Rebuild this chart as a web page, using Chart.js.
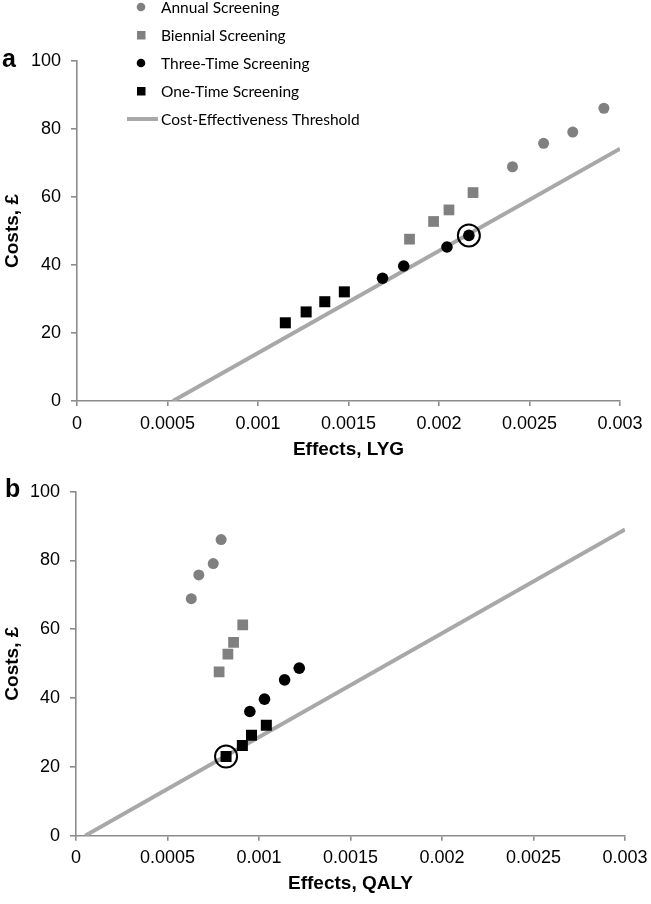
<!DOCTYPE html>
<html>
<head>
<meta charset="utf-8">
<title>Cost-effectiveness of screening</title>
<script src="https://cdn.jsdelivr.net/npm/chart.js@4"></script>
<style>
  body { margin: 0; background: #fff; }
  #wrap { position: relative; width: 651px; height: 904px; }
  .panel { position: absolute; left: 0; width: 651px; }
</style>
</head>
<body>
<div id="wrap">
  <div class="panel" style="top:0;height:470px"><canvas id="chartA"></canvas></div>
  <div class="panel" style="top:470px;height:434px"><canvas id="chartB"></canvas></div>
</div>
<script>
// costs (£) are the same in both panels
const costAnnual   = [68.9, 75.8, 79.1, 86.1];
const costBiennial = [47.6, 52.8, 56.2, 61.3];
const costThree    = [36.1, 39.7, 45.3, 48.7];
const costOne      = [23.0, 26.2, 29.2, 32.1];

// effects, life years gained (panel a)
const lygAnnual   = [0.002406, 0.002578, 0.002739, 0.002911];
const lygBiennial = [0.001837, 0.001970, 0.002055, 0.002188];
const lygThree    = [0.001688, 0.001805, 0.002044, 0.002165];
const lygOne      = [0.001151, 0.001266, 0.001369, 0.001477];

// effects, QALYs (panel b)
const qalyAnnual   = [0.000630, 0.000671, 0.000750, 0.000793];
const qalyBiennial = [0.000782, 0.000830, 0.000861, 0.000911];
const qalyThree    = [0.000950, 0.001030, 0.001140, 0.001220];
const qalyOne      = [0.000820, 0.000909, 0.000959, 0.001040];

// threshold line end points
const thresholdLYG      = [0.00053, 0.003];
const thresholdLYGCost  = [0, 74.2];
const thresholdQALY     = [0.00005, 0.003];
const thresholdQALYCost = [0, 89.0];

// circled (optimal) strategy in each panel
const circledLYG  = [0.002165];
const circledLYGCost = [48.7];
const circledQALY = [0.000820];
const circledQALYCost = [23.0];

const seriesNames = ["Annual Screening", "Biennial Screening", "Three-Time Screening",
                     "One-Time Screening", "Cost-Effectiveness Threshold"];
const xTicks = [0, 0.0005, 0.001, 0.0015, 0.002, 0.0025, 0.003];
const yTicks = [0, 20, 40, 60, 80, 100];

const GREY = "#808080";
const LINE_GREY = "#a8a8a8";
const AXIS_GREY = "#8c8c8c";

const pts = (xs, ys) => xs.map((x, i) => ({ x: x, y: ys[i] }));

function buildDatasets(e) {
  return [
    { label: seriesNames[0], data: pts(e.annual, costAnnual), pointStyle: "circle",
      pointRadius: 5.5, backgroundColor: GREY, borderWidth: 0, legend: "circle" },
    { label: seriesNames[1], data: pts(e.biennial, costBiennial), pointStyle: "rect",
      pointRadius: 7.6, backgroundColor: GREY, borderWidth: 0, legend: "rect" },
    { label: seriesNames[2], data: pts(e.three, costThree), pointStyle: "circle",
      pointRadius: 5.8, backgroundColor: "#000", borderWidth: 0, legend: "circle" },
    { label: seriesNames[3], data: pts(e.one, costOne), pointStyle: "rect",
      pointRadius: 7.8, backgroundColor: "#000", borderWidth: 0, legend: "rect" },
    { label: seriesNames[4], data: pts(e.line, e.lineCost), showLine: true, pointRadius: 0,
      borderColor: LINE_GREY, borderWidth: 4, order: 10, legend: "line" },
    { label: "circled", data: pts(e.circled, e.circledCost), pointStyle: "circle",
      pointRadius: 11, backgroundColor: "rgba(0,0,0,0)", borderColor: "#000",
      borderWidth: 2, order: -1 }
  ];
}

const panelPlugin = {
  id: "panelExtras",
  afterDraw(chart, args, opts) {
    const ctx = chart.ctx;
    ctx.save();
    // panel letter
    ctx.fillStyle = "#000";
    ctx.font = "bold 25px 'Liberation Sans', Arial, sans-serif";
    ctx.textAlign = "left";
    ctx.textBaseline = "alphabetic";
    ctx.fillText(opts.letter, opts.letterX, opts.letterY);

    if (opts.legend) {
      ctx.font = "15.5px Lato, 'Noto Sans', sans-serif";
      ctx.textBaseline = "middle";
      let row = 0;
      chart.data.datasets.forEach(ds => {
        if (!ds.legend) return;
        const y = 7 + row * 28;
        if (ds.legend === "circle") {
          ctx.fillStyle = ds.backgroundColor;
          ctx.beginPath();
          ctx.arc(141, y, 4.3, 0, Math.PI * 2);
          ctx.fill();
        } else if (ds.legend === "rect") {
          ctx.fillStyle = ds.backgroundColor;
          ctx.fillRect(137, y - 4, 8.5, 8.5);
        } else {
          ctx.strokeStyle = ds.borderColor;
          ctx.lineWidth = 4;
          ctx.beginPath();
          ctx.moveTo(127, y);
          ctx.lineTo(158, y);
          ctx.stroke();
        }
        ctx.fillStyle = "#000";
        ctx.fillText(ds.label, 161, y + 1);
        row++;
      });
    }
    ctx.restore();
  }
};

function makeChart(id, e, cfg) {
  return new Chart(document.getElementById(id), {
    type: "scatter",
    data: { datasets: buildDatasets(e) },
    plugins: [panelPlugin],
    options: {
      responsive: true,
      maintainAspectRatio: false,
      animation: false,
      layout: { padding: { left: 0, right: cfg.padRight, top: cfg.padTop, bottom: 0 } },
      plugins: {
        legend: { display: false },
        tooltip: { enabled: false },
        panelExtras: { letter: cfg.letter, letterX: cfg.letterX, letterY: cfg.letterY, legend: cfg.legend }
      },
      scales: {
        x: {
          type: "linear",
          min: 0, max: 0.003,
          afterBuildTicks: s => { s.ticks = xTicks.map(v => ({ value: v })); },
          afterFit: s => { s.height = cfg.xHeight; s.paddingLeft = 0; s.paddingRight = 0; },
          ticks: {
            color: "#000",
            font: { family: "'Liberation Sans', Arial, sans-serif", size: 18 },
            padding: 7,
            maxRotation: 0,
            callback: v => String(parseFloat(Number(v).toFixed(4)))
          },
          grid: { drawOnChartArea: false, drawTicks: true, tickLength: 5, color: AXIS_GREY, lineWidth: 1.6 },
          border: { display: true, color: AXIS_GREY, width: 1.6 },
          title: {
            display: true, text: cfg.xTitle, color: "#000",
            font: { family: "'Liberation Sans', Arial, sans-serif", size: 19, weight: "bold" },
            padding: { top: 0, bottom: cfg.xTitlePad }
          }
        },
        y: {
          type: "linear",
          min: 0, max: 100,
          afterBuildTicks: s => { s.ticks = yTicks.map(v => ({ value: v })); },
          afterFit: s => { s.width = cfg.yWidth; s.paddingTop = 0; s.paddingBottom = 0; },
          ticks: {
            color: "#000",
            font: { family: "'Liberation Sans', Arial, sans-serif", size: 18 },
            padding: 10
          },
          grid: { drawOnChartArea: false, drawTicks: true, tickLength: 6, color: AXIS_GREY, lineWidth: 1.6 },
          border: { display: true, color: AXIS_GREY, width: 1.6 },
          title: {
            display: true, text: "Costs, £", color: "#000",
            font: { family: "'Liberation Sans', Arial, sans-serif", size: 19, weight: "bold" },
            padding: { top: 1, bottom: 0 }
          }
        }
      }
    }
  });
}

makeChart("chartA", {
  annual: lygAnnual, biennial: lygBiennial, three: lygThree, one: lygOne,
  line: thresholdLYG, lineCost: thresholdLYGCost, circled: circledLYG, circledCost: circledLYGCost
}, {
  letter: "a", letterX: 2, letterY: 67, legend: true,
  padTop: 61, padRight: 31, yWidth: 77, xHeight: 69, xTitle: "Effects, LYG", xTitlePad: 9
});

makeChart("chartB", {
  annual: qalyAnnual, biennial: qalyBiennial, three: qalyThree, one: qalyOne,
  line: thresholdQALY, lineCost: thresholdQALYCost, circled: circledQALY, circledCost: circledQALYCost
}, {
  letter: "b", letterX: 5, letterY: 27, legend: false,
  padTop: 21.7, padRight: 26, yWidth: 76, xHeight: 68.3, xTitle: "Effects, QALY", xTitlePad: 8.5
});
</script>
</body>
</html>
